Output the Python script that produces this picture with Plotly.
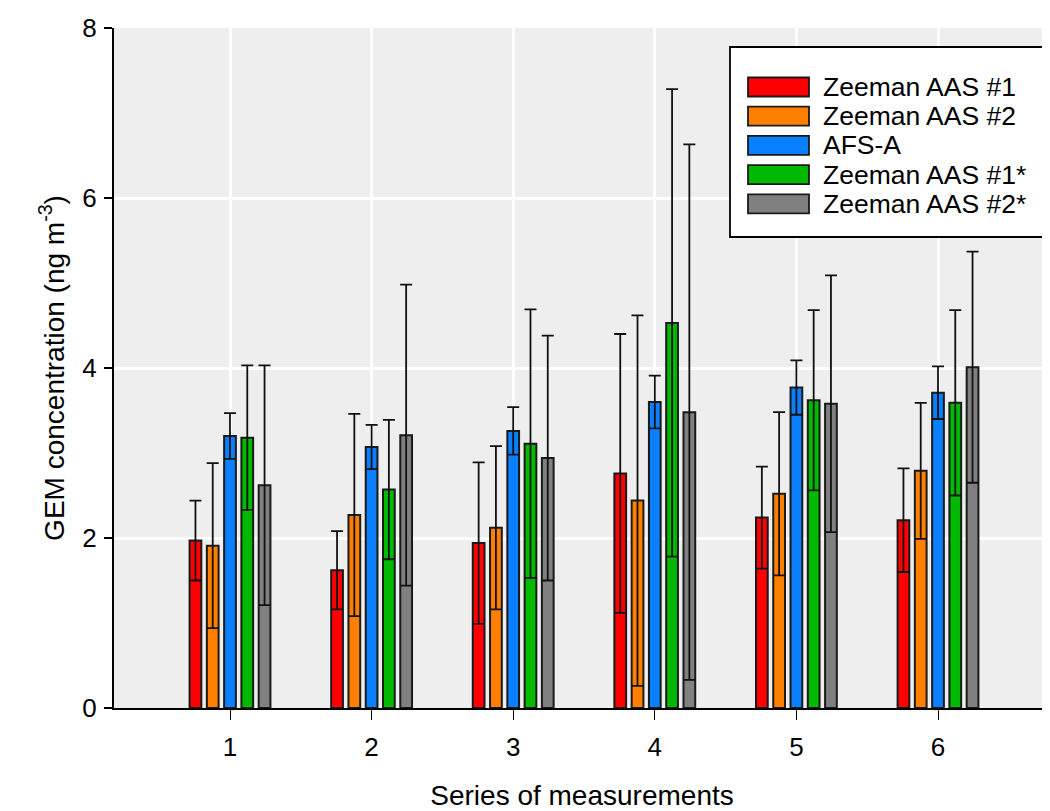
import plotly.graph_objects as go

# ---- data ----
series_x = [1, 2, 3, 4, 5, 6]
tick_labels = ["1", "2", "3", "4", "5", "6"]

names = ["Zeeman AAS #1", "Zeeman AAS #2", "AFS-A", "Zeeman AAS #1*", "Zeeman AAS #2*"]
colors = ["#ff0000", "#ff8000", "#0a80ff", "#00b900", "#808080"]

zeeman1 = [1.97, 1.62, 1.94, 2.76, 2.24, 2.21]
zeeman1_sd = [0.47, 0.46, 0.95, 1.64, 0.60, 0.61]
zeeman2 = [1.91, 2.27, 2.12, 2.44, 2.52, 2.79]
zeeman2_sd = [0.97, 1.19, 0.96, 2.18, 0.96, 0.80]
afs_a = [3.20, 3.07, 3.26, 3.60, 3.77, 3.71]
afs_a_sd = [0.27, 0.26, 0.28, 0.31, 0.32, 0.31]
zeeman1s = [3.18, 2.57, 3.11, 4.53, 3.62, 3.59]
zeeman1s_sd = [0.85, 0.82, 1.58, 2.75, 1.06, 1.09]
zeeman2s = [2.62, 3.21, 2.94, 3.48, 3.58, 4.01]
zeeman2s_sd = [1.41, 1.77, 1.44, 3.15, 1.51, 1.36]

values = [zeeman1, zeeman2, afs_a, zeeman1s, zeeman2s]
errors = [zeeman1_sd, zeeman2_sd, afs_a_sd, zeeman1s_sd, zeeman2s_sd]

FONT = "Arial, Liberation Sans, sans-serif"

# ---- geometry (pixels); page body has an 8px margin ----
OFF = 8
W, H = 1050 - OFF, 811 - OFF
ML, MT = 114 - OFF, 28 - OFF
MR = 0
MB = H - (708 - OFF)
PW = W - ML - MR
PH = H - MT - MB

fig = go.Figure()
for name, col, v, e in zip(names, colors, values, errors):
    fig.add_trace(go.Bar(
        x=series_x, y=v, name=name,
        marker=dict(color=col, line=dict(color="#1a1a1a", width=2)),
        error_y=dict(type="data", array=e, visible=True, color="#111111",
                     thickness=1.8, width=6),
        showlegend=False,
    ))

# ---- custom legend (large swatches like the reference) ----
def px_x(p):
    return (p - OFF - ML) / PW

def px_y(p):
    return (H - MB - (p - OFF)) / PH

shapes = [dict(type="rect", xref="paper", yref="paper",
               x0=px_x(730), x1=px_x(1047), y0=px_y(237), y1=px_y(47),
               fillcolor="white", line=dict(color="black", width=1.8), layer="above")]
annotations = []
for i, (name, col) in enumerate(zip(names, colors)):
    yc = 87 + i * 29.2
    shapes.append(dict(type="rect", xref="paper", yref="paper",
                       x0=px_x(748), x1=px_x(809), y0=px_y(yc + 9.5), y1=px_y(yc - 9.5),
                       fillcolor=col, line=dict(color="#1a1a1a", width=1.8), layer="above"))
    annotations.append(dict(xref="paper", yref="paper", x=px_x(821), y=px_y(yc),
                            text=name, showarrow=False, xanchor="left", yanchor="middle",
                            font=dict(family=FONT, size=26.5, color="black")))

fig.update_layout(
    width=W, height=H,
    margin=dict(l=ML, r=MR, t=MT, b=MB, pad=0, autoexpand=False),
    paper_bgcolor="white",
    plot_bgcolor="#eeeeee",
    barmode="group",
    bargap=0.39,
    bargroupgap=0.32,
    font=dict(family=FONT, size=26, color="black"),
    shapes=shapes,
    annotations=annotations,
    xaxis=dict(
        range=[1 - 116 / 141.6, 1 - 116 / 141.6 + PW / 141.6],
        tickmode="array", tickvals=series_x, ticktext=tick_labels,
        showgrid=True, gridcolor="white", gridwidth=3,
        showline=True, linecolor="black", linewidth=2,
        ticks="outside", ticklen=10, tickwidth=1, tickcolor="black",
        tickfont=dict(size=26),
        ticklabelstandoff=5,
        zeroline=False,
        automargin=False,
        title=dict(text="Series of measurements", font=dict(size=28), standoff=40),
    ),
    yaxis=dict(
        range=[0, 8], tickvals=[0, 2, 4, 6, 8],
        showgrid=True, gridcolor="white", gridwidth=3,
        showline=True, linecolor="black", linewidth=2,
        ticks="outside", ticklen=8, tickwidth=1.5, tickcolor="black",
        tickfont=dict(size=26),
        ticklabelstandoff=2,
        zeroline=False,
        automargin=False,
        title=dict(text="GEM concentration (ng m<sup>-3</sup>)", font=dict(size=28), standoff=10),
    ),
)

fig.write_html("out.html")
